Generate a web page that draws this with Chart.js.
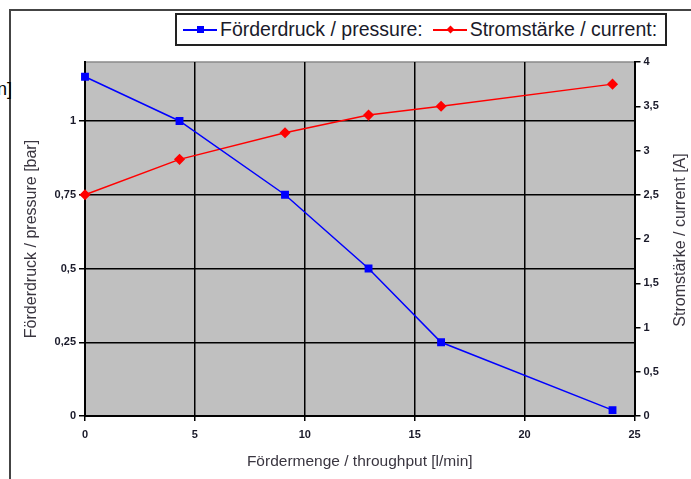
<!DOCTYPE html>
<html>
<head>
<meta charset="utf-8">
<script src="https://cdn.jsdelivr.net/npm/chart.js@4/dist/chart.umd.min.js"></script>
<style>
  html, body { margin: 0; padding: 0; background: #fff; }
  body { width: 691px; height: 479px; position: relative; overflow: hidden; }
  #wrap { position: absolute; left: 0; top: 0; width: 691px; height: 479px; }
  .frameTop { position: absolute; left: 9px; top: 9px; width: 682px; height: 2px; background: #444; }
  .frameLeft { position: absolute; left: 9px; top: 9px; width: 2px; height: 470px; background: #444; }
  .stray { position: absolute; left: -3px; top: 79px; font: 18px 'Liberation Sans', Arial, sans-serif; color: #000; }
  #legend { position: absolute; left: 175px; top: 13px; width: 492px; height: 33px; box-sizing: border-box;
    border: 2px solid #222; background: #fff; display: flex; align-items: center;
    font: 19.5px 'Liberation Sans', Arial, sans-serif; color: #1a1a2a; white-space: nowrap; }
  .item { display: flex; align-items: center; margin-left: 6px; }
  .item + .item { margin-left: 10px; }
  .sym { position: relative; width: 34px; height: 10px; margin-right: 3px; }
  .sym .ln { position: absolute; left: 0; right: 0; top: 4px; height: 2px; }
  .sym .mk { position: absolute; left: 14px; top: 1px; width: 7px; height: 7px; }
</style>
</head>
<body>
<div class="frameTop"></div>
<div class="frameLeft"></div>
<span class="stray">n]</span>
<div id="wrap"><canvas id="chart" width="691" height="479"></canvas></div>
<div id="legend">
  <div class="item"><div class="sym"><div class="ln" style="background:#0000ff"></div><div class="mk" style="background:#0000ff"></div></div>Förderdruck / pressure:</div>
  <div class="item"><div class="sym"><div class="ln" style="background:#ff0000"></div><div class="mk" style="background:#ff0000;transform:rotate(45deg) scale(0.8)"></div></div>Stromstärke / current:</div>
</div>
<script>
// werte
var flow = [0, 4.3, 9.1, 12.9, 16.2, 24];
var pressure = [1.15, 1.0, 0.75, 0.5, 0.25, 0.02];
var current = [2.5, 2.9, 3.2, 3.4, 3.5, 3.75];
var pressureTicks = [0, 0.25, 0.5, 0.75, 1];

var fontFam = "'Liberation Sans', Arial, sans-serif";

function komma(v) {
  return String(v).replace('.', ',');
}

var plotBg = {
  id: 'plotBg',
  beforeDraw: function (chart) {
    var a = chart.chartArea, ctx = chart.ctx;
    ctx.save();
    ctx.fillStyle = '#c0c0c0';
    ctx.fillRect(a.left, a.top, a.right - a.left, a.bottom - a.top);
    ctx.strokeStyle = '#8a8a8a';
    ctx.lineWidth = 1.5;
    ctx.beginPath();
    ctx.moveTo(a.left, a.top);
    ctx.lineTo(a.right, a.top);
    ctx.stroke();
    ctx.restore();
  }
};

// rechte achsenbeschriftung von unten nach oben wie im original
var rightTitle = {
  id: 'rightTitle',
  afterDraw: function (chart) {
    var ctx = chart.ctx;
    ctx.save();
    ctx.translate(681, 240);
    ctx.rotate(-Math.PI / 2);
    ctx.font = '16px ' + fontFam;
    ctx.fillStyle = '#3a3640';
    ctx.textAlign = 'center';
    ctx.textBaseline = 'middle';
    ctx.fillText('Stromstärke / current [A]', 0, 0);
    ctx.restore();
  }
};

var tickFont = { size: 11, weight: 'bold', family: fontFam };

var ctx = document.getElementById('chart').getContext('2d');
var chart = new Chart(ctx, {
  type: 'line',
  data: {
    datasets: [{
      label: 'Förderdruck / pressure:',
      data: flow.map(function (x, i) { return { x: x, y: pressure[i] }; }),
      yAxisID: 'yL',
      borderColor: '#0000ff',
      backgroundColor: '#0000ff',
      borderWidth: 1.5,
      pointStyle: 'rect',
      pointRadius: 4.5,
      pointHoverRadius: 4.5,
      tension: 0,
      clip: false
    }, {
      label: 'Stromstärke / current:',
      data: flow.map(function (x, i) { return { x: x, y: current[i] }; }),
      yAxisID: 'yR',
      borderColor: '#ff0000',
      backgroundColor: '#ff0000',
      borderWidth: 1.5,
      pointStyle: 'rectRot',
      pointRadius: 4.5,
      pointHoverRadius: 4.5,
      tension: 0,
      clip: false
    }]
  },
  options: {
    responsive: false,
    animation: false,
    events: [],
    layout: { padding: { left: 22, right: 4, top: 62, bottom: 4 } },
    plugins: { legend: { display: false }, tooltip: { enabled: false } },
    scales: {
      x: {
        type: 'linear',
        min: 0, max: 25,
        afterFit: function (s) { s.height = 59; },
        ticks: { stepSize: 5, color: '#1a1a2a', padding: 7, font: tickFont },
        grid: { color: '#000', lineWidth: 1.5, tickLength: 5 },
        border: { color: '#000', width: 2 },
        title: { display: true, text: 'Fördermenge / throughput [l/min]', color: '#3a3640',
          font: { size: 15.5, family: fontFam }, padding: { top: 8 } }
      },
      yL: {
        type: 'linear',
        position: 'left',
        min: 0, max: 1.2,
        afterFit: function (s) { s.width = 63; },
        afterBuildTicks: function (s) {
          s.ticks = pressureTicks.map(function (v) { return { value: v }; });
        },
        ticks: { color: '#1a1a2a', padding: 3, font: tickFont,
          callback: function (v) { return komma(v); } },
        grid: { color: '#000', lineWidth: 1.5, tickLength: 6 },
        border: { color: '#000', width: 2 },
        title: { display: true, text: 'Förderdruck / pressure [bar]', color: '#3a3640',
          font: { size: 16, family: fontFam }, padding: 0 }
      },
      yR: {
        type: 'linear',
        position: 'right',
        min: 0, max: 4,
        afterFit: function (s) { s.width = 52.5; },
        ticks: { stepSize: 0.5, color: '#1a1a2a', padding: 3, font: tickFont,
          callback: function (v) { return komma(v); } },
        grid: { drawOnChartArea: false, color: '#000', lineWidth: 1.5, tickLength: 6 },
        border: { color: '#000', width: 2 }
      }
    }
  },
  plugins: [plotBg, rightTitle]
});
</script>
</body>
</html>
